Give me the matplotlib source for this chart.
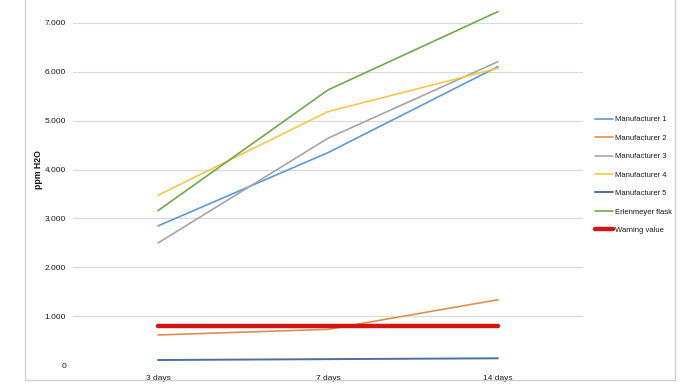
import matplotlib
matplotlib.use("Agg")
import matplotlib.pyplot as plt
from matplotlib.patches import Rectangle

categories = ["3 days", "7 days", "14 days"]
series_names = ["Manufacturer 1", "Manufacturer 2", "Manufacturer 3", "Manufacturer 4",
                "Manufacturer 5", "Erlenmeyer flask", "Warning value"]
manufacturer_1 = [2845, 4345, 6105]
manufacturer_2 = [614, 730, 1335]
manufacturer_3 = [2497, 4640, 6207]
manufacturer_4 = [3473, 5184, 6072]
manufacturer_5 = [102, 120, 137]
erlenmeyer = [3158, 5628, 7231]
warning = [790, 790, 790]
yticks = [0, 1000, 2000, 3000, 4000, 5000, 6000, 7000]
ytick_labels = ["0", "1.000", "2.000", "3.000", "4.000", "5.000", "6.000", "7.000"]

values = [manufacturer_1, manufacturer_2, manufacturer_3, manufacturer_4,
          manufacturer_5, erlenmeyer, warning]
colors = ["#5B9BD5", "#E0904E", "#A5A5A5", "#F2CA45", "#4A6FA0", "#6FA94A", "#D01515"]
widths = [1.2, 1.2, 1.2, 1.2, 1.4, 1.2, 3.2]

plt.rcParams['font.family'] = ['Liberation Sans', 'DejaVu Sans']

fig = plt.figure(figsize=(7, 3.9), dpi=100)
ax = fig.add_axes([73/700, 25/390, 510/700, 391/390])
x = list(range(len(categories)))
for name, v, c, w in zip(series_names, values, colors, widths):
    ax.plot(x, v, color=c, lw=w, label=name, solid_capstyle='round', zorder=3)

ax.set_xlim(-0.5, 2.5)
ax.set_ylim(0, 8000)
ax.set_yticks(yticks)
ax.set_yticklabels(ytick_labels)
ax.set_xticks(x)
ax.set_xticklabels(categories)
ax.grid(axis='y', color='#D9D9D9', lw=0.8)
ax.set_axisbelow(True)
for s in ax.spines.values():
    s.set_visible(False)
ax.tick_params(length=0, labelsize=6.0, colors='#1a1a1a')
ax.tick_params(axis='y', pad=5)
ax.tick_params(axis='x', pad=7)
ax.set_ylabel("ppm H2O", fontsize=6.3, fontweight='bold', color='#111111', labelpad=1)

leg = ax.legend(loc='center left', bbox_to_anchor=(592/700, 1 - 175/390), bbox_transform=fig.transFigure,
                frameon=False, fontsize=5.5, handlelength=2.4, handletextpad=0.25,
                labelspacing=1.45, borderaxespad=0)
for t in leg.get_texts():
    t.set_color('#1a1a1a')

fig.patches.append(Rectangle((25/700, 10/390), 650/700, 400/390, transform=fig.transFigure,
                             fill=False, edgecolor='#D0D0D0', lw=1.0))
fig.savefig("out.png", dpi=100)
